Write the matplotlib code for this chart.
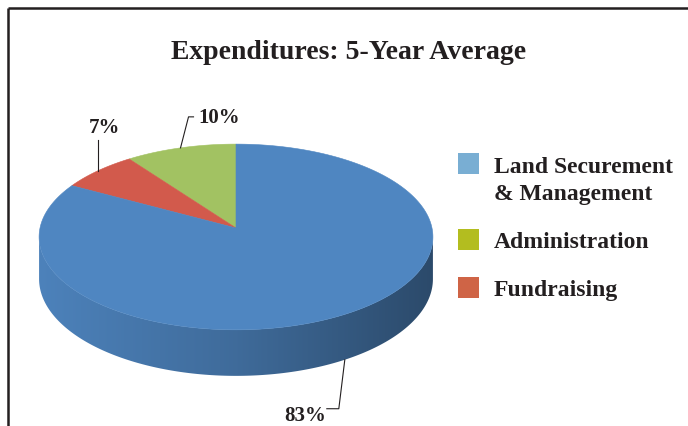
"""
Expenditures: 5-Year Average -- 3-D style pie chart drawn with matplotlib patches.
"""

import numpy as np
import matplotlib
matplotlib.use("Agg")
import matplotlib.pyplot as plt
from matplotlib.patches import Polygon, Rectangle
from matplotlib.colors import LinearSegmentedColormap, to_rgb

# Data (drawing order: counter-clockwise from 12 o'clock)
title = "Expenditures: 5-Year Average"
categories = ["Administration", "Fundraising", "Land Securement\n& Management"]
shares = [10, 7, 83]
pie_colors = ["#A2C262", "#D25A4C", "#4F86C1"]

# Legend order as shown in the picture
legend_labels = ["Land Securement\n& Management", "Administration", "Fundraising"]
legend_colors = ["#79AED3", "#B3BD1F", "#CF6446"]

# Pie geometry (pixels)
W, H = 688, 426
CX, CY = 236, 228        # pie centre (tip of the slices)
RX, RY = 196, 92         # rim radii
PERSP = 0.0965           # perspective strength (back smaller than front)
DEPTH = 41.6             # thickness of the disc
START = 90

FONT = "Liberation Serif"


def project(theta_deg, drop=0.0):
    """Rim point for angle theta (deg), drop > 0 moves down the side."""
    t = np.radians(theta_deg)
    w = 1 + PERSP * np.sin(t)
    x = CX + RX * np.cos(t) / w
    y = CY - RY * np.sin(t) / w + drop / w
    return x, y


def shade(color, f):
    r, g, b = to_rgb(color)
    return (r * f, g * f, b * f)


fig = plt.figure(figsize=(W / 100, H / 100), dpi=100)
ax = fig.add_axes([0, 0, 1, 1])

# slice angles
edges = START + 360 * np.concatenate([[0], np.cumsum(shares)]) / sum(shares)

# visible side of the disc: between the left and right silhouette
side_lo = 180 + np.degrees(np.arcsin(PERSP))
side_hi = 360 - np.degrees(np.arcsin(PERSP))

for i, col in enumerate(pie_colors):
    a0, a1 = edges[i], edges[i + 1]
    for off in (0, 360):
        lo, hi = max(a0, side_lo + off), min(a1, side_hi + off)
        if hi <= lo:
            continue
        th = np.linspace(lo, hi, 200)
        tx, ty = project(th)
        bx, by = project(th[::-1], DEPTH)
        poly = Polygon(np.column_stack([np.r_[tx, bx], np.r_[ty, by]]),
                       closed=True, facecolor="none", edgecolor="none")
        ax.add_patch(poly)
        cmap = LinearSegmentedColormap.from_list(
            "side", [shade(col, 0.97), shade(col, 0.8), shade(col, 0.55)])
        grad = np.linspace(0, 1, 256)[None, :]
        im = ax.imshow(grad, cmap=cmap, aspect="auto", zorder=1,
                       extent=(CX - RX - 3, CX + RX + 3, CY + RY + 60, CY - 10))
        im.set_clip_path(poly)

# top face
for i, col in enumerate(pie_colors):
    th = np.linspace(edges[i], edges[i + 1], 300)
    x, y = project(th)
    pts = np.column_stack([np.r_[CX, x], np.r_[CY, y]])
    ax.add_patch(Polygon(pts, closed=True, facecolor=col, edgecolor=col,
                         linewidth=0.4, zorder=2))

# percentage labels with leader lines
label_style = dict(fontsize=15, fontweight="bold", family=FONT, color="#231F20")
leader_elbow = [(8, -31), (0, -31), (-6, 49)]
leader_tick = [5, 0, -12]
for i, v in enumerate(shares):
    mid = (edges[i] + edges[i + 1]) / 2
    front = np.sin(np.radians(mid)) < 0
    ax_, ay_ = project(mid, DEPTH if front else 0)
    ex, ey = ax_ + leader_elbow[i][0], ay_ + leader_elbow[i][1]
    tx = ex + leader_tick[i]
    ax.plot([ax_, ex, tx], [ay_, ey, ey], color="#231F20", lw=0.8, zorder=3)
    if leader_tick[i] > 0:
        ax.text(tx + 5, ey + 6, f"{v}%", ha="left", va="baseline", **label_style)
    elif leader_tick[i] < 0:
        ax.text(tx - 1, ey + 12, f"{v}%", ha="right", va="baseline", **label_style)
    else:
        ax.text(ex + 7, ey - 7, f"{v}%", ha="center", va="baseline", **label_style)

# title
ax.text(349, 59, title, ha="center", va="baseline", fontsize=20,
        fontweight="bold", family=FONT, color="#231F20")

# legend
box_tops = [153, 229, 277]
text_base = [173, 248, 296]
line_step = 27
for lab, col, bt, tb in zip(legend_labels, legend_colors, box_tops, text_base):
    ax.add_patch(Rectangle((458, bt), 21, 21, facecolor=col, edgecolor="none"))
    for k, line in enumerate(lab.split("\n")):
        ax.text(494, tb + k * line_step, line, ha="left", va="baseline",
                fontsize=17, fontweight="bold", family=FONT, color="#231F20")

# frame (top and left edges visible)
ax.plot([8, W], [8, 8], color="#231F20", lw=1.8, solid_capstyle="butt")
ax.plot([8, 8], [8, H], color="#231F20", lw=1.8, solid_capstyle="butt")

ax.set_xlim(0, W)
ax.set_ylim(H, 0)
ax.axis("off")

fig.savefig("out.png", dpi=100)
